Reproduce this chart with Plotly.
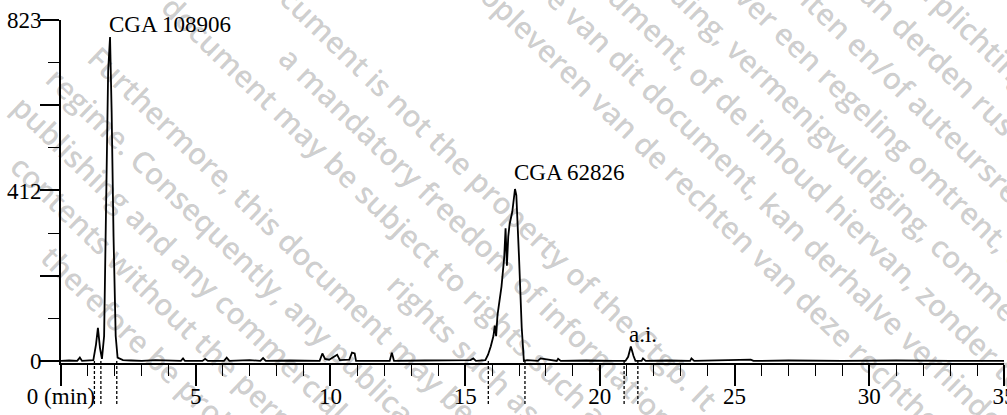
import math
import plotly.graph_objects as go

# ---------------- data ----------------
time_min = [0.0, 0.3, 0.6, 0.7, 0.78, 1.0, 1.2, 1.3, 1.37, 1.45, 1.52, 1.6, 1.67, 1.75, 1.82,
            1.88, 1.95, 2.03, 2.1, 2.3, 2.6, 3.0, 3.5, 4.0, 4.45, 4.53, 4.6, 5.25, 5.35, 5.45,
            6.05, 6.15, 6.25, 7.0, 7.4, 7.5, 7.6, 8.5, 9.6, 9.7, 9.8, 9.95, 10.1, 10.25, 10.35,
            10.7, 10.8, 10.9, 10.95, 12.2, 12.28, 12.36, 13.5, 15.2, 15.3, 15.4, 15.75, 15.85,
            15.95, 16.05, 16.1, 16.15, 16.2, 16.35, 16.45, 16.5, 16.55, 16.6, 16.65, 16.75,
            16.85, 16.9, 17.0, 17.1, 17.18, 17.3, 17.7, 17.8, 18.4, 18.45, 18.55, 19.5, 20.5,
            20.95, 21.05, 21.15, 21.25, 21.32, 21.55, 21.6, 21.7, 22.5, 23.35, 23.4, 23.5, 25.0,
            25.6, 25.7, 27.0, 29.0, 31.0, 33.0, 35.0]
signal = [0, 1, 0, 8, 0, 1, 2, 40, 80, 30, 5, 60, 400, 700, 782,
          600, 300, 60, 8, 2, 1, 0, 2, 0, 0, 6, 0, 0, 5, 0,
          0, 8, 0, 2, 0, 7, 0, 1, 0, 18, 5, 3, 10, 15, 2,
          3, 20, 18, 0, 0, 20, 0, 1, 2, 6, 0, 2, 15,
          35, 60, 85, 60, 110, 180, 250, 320, 230, 300, 330, 360,
          415, 400, 250, 80, 0, 2, 0, 6, 0, 5, 0, 1, 0,
          0, 10, 35, 12, 0, 0, 6, 0, 1, 0, 6, 0, 1,
          3, 0, 1, 0, 1, 0, 0]

integration_marks = [1.24, 1.48, 2.07, 15.86, 17.22, 20.9, 21.41]

peak_labels = ["CGA 108906", "CGA 62826", "a.i."]
peak_label_x = [1.71, 16.74, 21.0]
peak_label_y = [812, 454, 63]

x_tick_vals = [0, 5, 10, 15, 20, 25, 30, 35]
x_tick_text = ["0 (min)", "5", "10", "15", "20", "25", "30", "35"]
y_tick_vals = [0, 205.75, 411.5, 617.25, 823]
y_tick_text = ["0", "", "412", "", "823"]

# watermark: row offset (px, perpendicular), start along the row (px), text
watermark_row = [-653, -609, -565, -521, -477, -433, -389, -345,
                 -204, -160, -116, -72, -28, 16, 60, 104, 148]
watermark_start = [625, 596, 517, 505, 357, 380, 300, 340,
                   160, 238, 118, 474, 100, 85, 80, 120, 205]
watermark_texts = [
    "verplichtingen van de eigenaar",
    "van derden rusten op dit document",
    "rechten en/of auteursrechten van",
    "over een regeling omtrent, commerciële",
    "verspreiding, vermenigvuldiging, commerciële",
    "document, of de inhoud hiervan, zonder toestemming",
    "uitgave van dit document, kan derhalve verhinderd",
    "opleveren van de rechten van deze rechthebbende",
    "document is not the property of the Ctgb. It",
    "a mandatory freedom of information regime.",
    "document may be subject to rights such as",
    "rights such as intellectual property",
    "Furthermore, this document may be subject to",
    "regime. Consequently, any publication, distribution",
    "publishing and any commercial exploitation and use",
    "contents without the permission of the owner",
    "therefore be prohibited and violate the rights",
]

# ---------------- figure ----------------
W, H = 1007, 415
ML, MR, MT, MB = 61, 3, 20, 52
PW, PH = W - ML - MR, H - MT - MB

fig = go.Figure()
fig.add_trace(go.Scatter(
    x=time_min, y=signal, mode="lines",
    line=dict(color="black", width=1.8),
    hoverinfo="skip", showlegend=False,
))

Y_MIN, Y_MAX = -5, 823
zero_paper = (0 - Y_MIN) / (Y_MAX - Y_MIN)
for t in integration_marks:
    fig.add_shape(type="line", xref="x", yref="paper", x0=t, x1=t,
                  y0=zero_paper, y1=-0.125,
                  line=dict(color="black", width=1.3, dash="3px,2px"))

serif = "Liberation Serif, Times New Roman, serif"
for txt, xx, yy in zip(peak_labels, peak_label_x, peak_label_y):
    fig.add_annotation(x=xx, y=yy, xref="x", yref="y", text=txt, showarrow=False,
                       xanchor="left", yanchor="middle",
                       font=dict(family=serif, size=23, color="black"))

# watermark rows: diagonal, parallel
ANG = 44
sn, cs = math.sin(math.radians(ANG)), math.cos(math.radians(ANG))
WM_SIZE, BOXH = 30, 43
for p, s0, txt in zip(watermark_row, watermark_start, watermark_texts):
    xs = -p * sn + s0 * cs
    ys = p * cs + s0 * sn
    bx = xs - BOXH / 2 * sn
    by = ys - BOXH / 2 * cs
    fig.add_annotation(x=(bx - ML) / PW, y=(H - MB - by) / PH, xref="paper", yref="paper",
                       text=txt, showarrow=False, textangle=ANG,
                       xanchor="left", yanchor="top",
                       font=dict(family="Open Sans", size=WM_SIZE, weight=600,
                                 color="rgba(0,0,0,0.2)"))

fig.update_layout(
    width=W, height=H,
    margin=dict(l=ML, r=MR, t=MT, b=MB, autoexpand=False),
    paper_bgcolor="white", plot_bgcolor="white",
    showlegend=False,
    font=dict(family=serif, size=23, color="black"),
)

fig.update_xaxes(
    range=[0, 35], showgrid=False, zeroline=False,
    showline=True, linecolor="black", linewidth=2,
    tickmode="array", tickvals=x_tick_vals, ticktext=x_tick_text,
    ticks="outside", ticklen=21, tickwidth=1.5, tickcolor="black",
    ticklabeloverflow="allow", ticklabelstandoff=-10, automargin=False,
    tickfont=dict(family=serif, size=23, color="black"),
    minor=dict(tickmode="linear", tick0=0, dtick=1, ticks="outside",
               ticklen=11, tickwidth=1.3, tickcolor="black", showgrid=False),
)
fig.update_yaxes(
    range=[Y_MIN, Y_MAX], showgrid=False, zeroline=False,
    showline=True, linecolor="black", linewidth=2,
    tickmode="array", tickvals=y_tick_vals, ticktext=y_tick_text,
    ticks="outside", ticklen=19, tickwidth=1.5, tickcolor="black",
    ticklabelstandoff=-6, automargin=False,
    tickfont=dict(family=serif, size=23, color="black"),
    minor=dict(tickmode="linear", tick0=0, dtick=102.875, ticks="outside",
               ticklen=11, tickwidth=1.3, tickcolor="black", showgrid=False),
)

fig.write_html("out.html")
